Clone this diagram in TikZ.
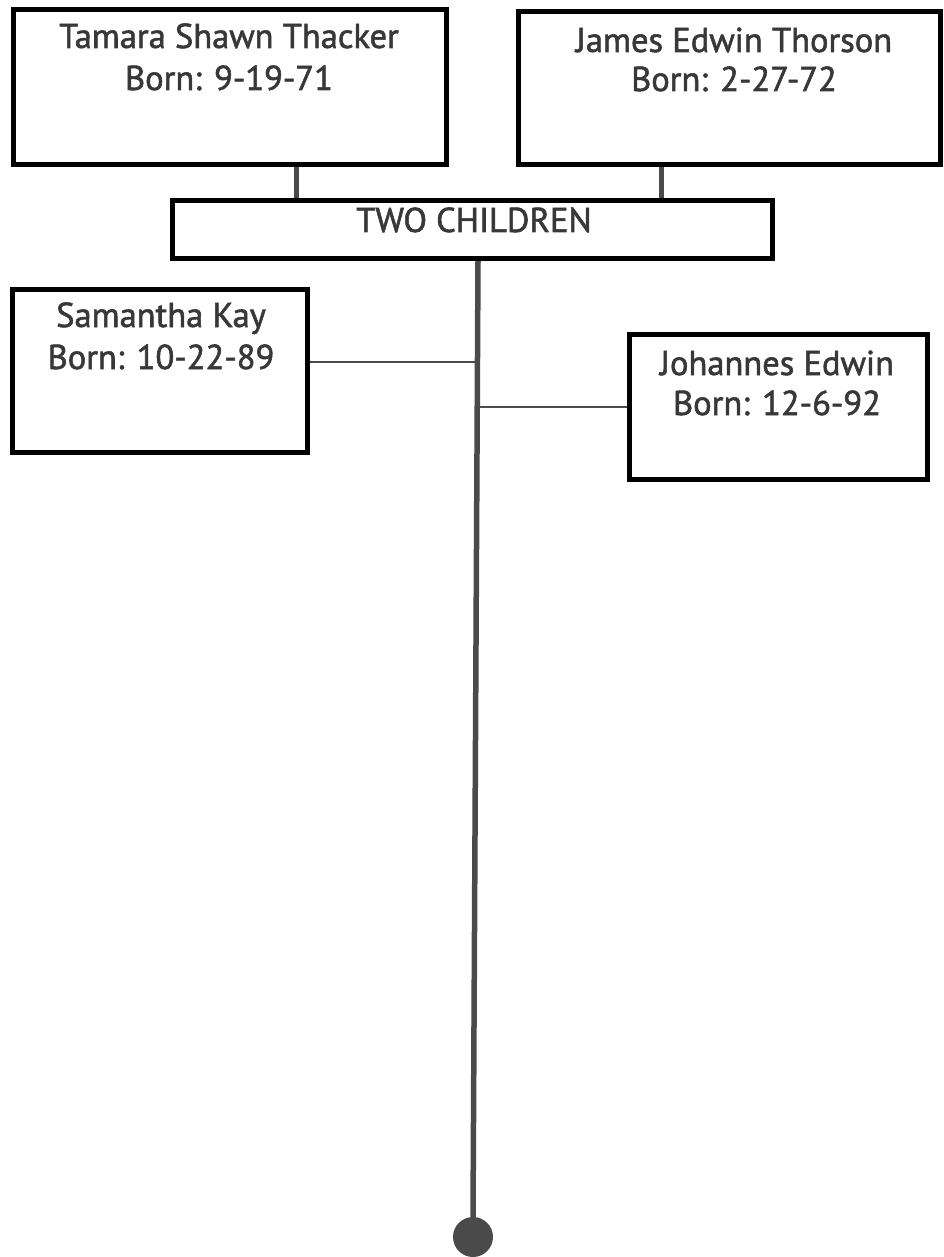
\documentclass[tikz,border=0pt]{standalone}
\usepackage{fontspec}
\setmainfont{PT Sans}[BoldFont={PT Sans}, BoldFeatures={FakeBold=1.6}]
\definecolor{ink}{HTML}{383838}
\definecolor{linegray}{HTML}{4A4A4A}
\begin{document}
\begin{tikzpicture}[x=1pt,y=-1pt,
  box/.style={draw=black, line width=5pt, fill=white, inner sep=0pt},
  label/.style={text=ink, inner sep=0pt, anchor=base, font=\fontsize{34.5}{40}\selectfont\bfseries},
  parentlink/.style={draw=linegray, line width=5pt},
  trunk/.style={draw=linegray, line width=5.5pt},
  childlink/.style={draw=linegray, line width=2.5pt},
  endcap/.style={circle, fill=linegray, inner sep=0pt, minimum size=40pt}]
\useasboundingbox (0,0) rectangle (944,1257);

% parent boxes
\node[box, minimum width=433pt, minimum height=155pt] (tamara) at (229.5,87) {};
\node[box, minimum width=422pt, minimum height=153pt] (james) at (729,88) {};
\node[label] (tamaraname) at (229,48) {Tamara Shawn Thacker};
\node[label] (tamaraborn) at (229,90) {Born: 9-19-71};
\node[label] (jamesname) at (734,52) {James Edwin Thorson};
\node[label] (jamesborn) at (734,91) {Born: 2-27-72};

% union box
\node[box, minimum width=600pt, minimum height=58pt] (two) at (472.5,229.5) {};
\node[label] (twolabel) at (474,232) {TWO CHILDREN};

% children boxes
\node[box, minimum width=295pt, minimum height=163pt] (sam) at (160,371) {};
\node[label] (samname) at (161,327) {Samantha Kay};
\node[label] (samborn) at (161,369) {Born: 10-22-89};
\node[box, minimum width=298pt, minimum height=145pt] (joh) at (778.5,407) {};
\node[label] (johname) at (777,375) {Johannes Edwin};
\node[label] (johborn) at (777,415) {Born: 12-6-92};

% end of the line of descent
\node[endcap] (dot) at (473,1237) {};

% anchor points for the links
\coordinate (tx) at (296,0);
\coordinate (jx) at (661,0);
\coordinate (kx) at (478,0);
\coordinate (sj) at (478,362);
\coordinate (jj) at (478,407);

% links
\draw[parentlink] (tamara.south -| tx) -- (two.north -| tx);
\draw[parentlink] (james.south -| jx) -- (two.north -| jx);
\draw[trunk] (two.south -| kx) -- (dot.north);
\draw[childlink] (sam.east |- sj) -- (sj);
\draw[childlink] (jj) -- (joh.west |- jj);
\end{tikzpicture}
\end{document}
